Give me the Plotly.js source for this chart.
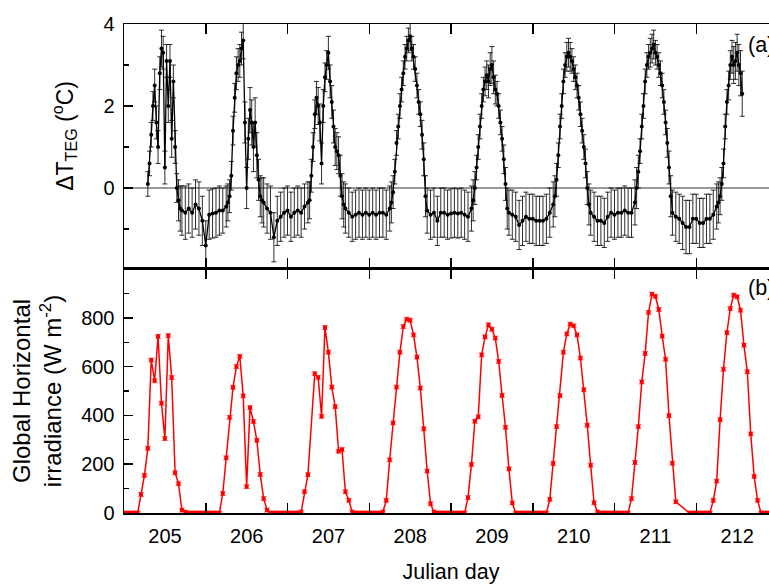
<!DOCTYPE html>
<html><head><meta charset="utf-8">
<script src="https://cdn.plot.ly/plotly-3.0.1.min.js"></script>
<style>html,body{margin:0;padding:0;overflow:hidden;background:#fff}#chart{width:800px;height:588px}</style>
</head><body><div id="chart"></div>
<script>
// ---------- DATA ----------
const days = [205, 206, 207, 208, 209, 210, 211, 212];
const dayLabels = ['205', '206', '207', '208', '209', '210', '211', '212'];

// hour of day for the ΔT_TEG samples (hourly at night, half-hourly during daytime)
const hoursDT = [0,1,2,3,4,5,6,6.5,7,7.5,8,8.5,9,9.5,10,10.5,11,11.5,12,12.5,13,13.5,14,14.5,15,15.5,16,16.5,17,18,19,20,21,22,23];

const dT205 = [null,null,null,null,null,null,null,null, 0.1,0.6,1.3,2.0,2.5,1.6,1.0,2.8,3.4,3.3,0.5,3.1,2.0,3.1,1.2,2.6,1.0,0.0,-0.3,-0.5, -0.55,-0.6,-0.5,-0.6,-0.4,-0.5,-0.8];
const dT206 = [-1.4,-0.65,-0.62,-0.6,-0.55,-0.55,-0.45,-0.35, -0.2,0.3,1.4,2.2,2.8,3.0,3.1,3.4,3.6,1.6,0.0,1.2,1.9,1.6,1.0,1.6,0.8,0.2,-0.2,-0.3, -0.35,-0.5,-0.6,-1.2,-0.8,-0.7,-0.6];
const dT207 = [-0.55,-0.7,-0.6,-0.55,-0.6,-0.45,-0.35,-0.3, 0.3,1.0,1.8,2.2,2.0,1.6,0.6,2.0,2.7,3.0,3.3,2.6,2.1,1.5,1.0,0.9,0.8,0.3,-0.2,-0.4, -0.5,-0.6,-0.7,-0.65,-0.6,-0.65,-0.6];
const dT208 = [-0.65,-0.6,-0.65,-0.6,-0.6,-0.65,-0.5,-0.35, -0.1,0.4,1.1,1.5,2.0,2.4,2.8,3.2,3.4,3.6,3.7,3.4,3.2,2.9,2.5,2.1,1.8,1.3,0.7,-0.2, -0.55,-0.65,-0.6,-0.8,-0.6,-0.6,-0.65];
const dT209 = [-0.62,-0.6,-0.62,-0.6,-0.65,-0.7,-0.5,-0.3, 0.0,0.5,1.0,1.5,2.0,2.4,2.6,2.75,2.6,2.9,3.0,2.7,2.4,2.3,2.0,1.6,1.2,0.7,0.1,-0.5, -0.6,-0.65,-0.7,-0.9,-0.8,-0.7,-0.75];
const dT210 = [-0.75,-0.8,-0.8,-0.8,-0.75,-0.6,-0.4,-0.2, 0.2,0.8,1.5,2.0,2.6,3.0,3.2,3.3,3.2,3.1,2.9,2.7,2.5,2.2,1.8,1.4,1.0,0.6,0.0,-0.4, -0.6,-0.7,-0.8,-0.8,-0.85,-0.7,-0.6];
const dT211 = [-0.65,-0.6,-0.6,-0.55,-0.6,-0.6,-0.35,0.0, 0.4,0.9,1.5,2.0,2.6,3.0,3.2,3.3,3.4,3.5,3.3,3.2,3.0,2.8,2.5,2.1,1.6,1.1,0.5,-0.2, -0.6,-0.7,-0.75,-0.85,-0.95,-0.95,-0.75];
const dT212 = [-0.75,-0.85,-0.85,-0.75,-0.75,-0.65,-0.45,-0.35, -0.2,0.1,0.6,1.5,2.1,2.5,3.0,3.2,3.0,3.1,3.3,3.0,2.8,2.3,null,null,null,null,null,null, null,null,null,null,null,null,null];

const errDT205 = [null,null,null,null,null,null,null,null, 0.3,0.3,0.3,0.35,0.4,0.4,0.4,0.4,0.45,0.4,0.4,0.4,0.4,0.4,0.45,0.4,0.4,0.35,0.5,0.55, 0.6,0.65,0.6,0.6,0.6,0.65,0.6];
const errDT206 = [0.6,0.6,0.6,0.6,0.6,0.55,0.5,0.45, 0.4,0.35,0.35,0.35,0.4,0.4,0.4,0.4,0.45,0.5,0.5,0.5,0.55,0.55,0.6,0.6,0.55,0.5,0.5,0.55, 0.6,0.6,0.65,0.6,0.6,0.6,0.6];
const errDT207 = [0.6,0.6,0.6,0.6,0.6,0.55,0.5,0.45, 0.4,0.35,0.35,0.4,0.45,0.45,0.5,0.4,0.35,0.35,0.4,0.4,0.4,0.4,0.45,0.45,0.45,0.5,0.55,0.55, 0.6,0.6,0.6,0.6,0.6,0.6,0.6];
const errDT208 = [0.6,0.6,0.6,0.6,0.6,0.6,0.55,0.5, 0.4,0.3,0.3,0.3,0.3,0.3,0.3,0.3,0.3,0.3,0.35,0.3,0.3,0.3,0.3,0.3,0.3,0.35,0.4,0.5, 0.55,0.6,0.6,0.6,0.6,0.6,0.6];
const errDT209 = [0.6,0.6,0.6,0.6,0.6,0.6,0.55,0.5, 0.4,0.3,0.3,0.3,0.3,0.3,0.35,0.35,0.4,0.4,0.45,0.4,0.35,0.3,0.3,0.3,0.3,0.35,0.4,0.5, 0.55,0.6,0.6,0.6,0.6,0.6,0.6];
const errDT210 = [0.6,0.6,0.6,0.6,0.6,0.6,0.55,0.5, 0.4,0.3,0.3,0.3,0.3,0.3,0.35,0.35,0.35,0.3,0.3,0.3,0.3,0.3,0.3,0.3,0.3,0.35,0.4,0.5, 0.55,0.6,0.6,0.6,0.6,0.6,0.6];
const errDT211 = [0.6,0.6,0.6,0.6,0.6,0.6,0.55,0.5, 0.4,0.3,0.3,0.3,0.3,0.3,0.3,0.35,0.35,0.35,0.3,0.3,0.3,0.3,0.3,0.3,0.3,0.35,0.4,0.5, 0.55,0.6,0.6,0.65,0.65,0.65,0.6];
const errDT212 = [0.6,0.6,0.6,0.6,0.6,0.6,0.55,0.5, 0.45,0.4,0.35,0.3,0.3,0.35,0.35,0.4,0.45,0.45,0.45,0.5,0.55,0.55,null,null,null,null,null,null, null,null,null,null,null,null,null];

// hourly Global Horizontal irradiance (W m^-2)
const hoursIrr = [0,1,2,3,4,5,6,7,8,9,10,11,12,13,14,15,16,17,18,19,20,21,22,23];
const irr205 = [0,0,0,0,0,76,154,265,627,542,724,450,305,727,555,165,120,12,4,0,0,0,0,0];
const irr206 = [0,0,0,0,0,80,226,392,515,600,642,480,108,432,375,298,158,59,12,0,0,0,0,0];
const irr207 = [0,0,0,0,4,87,157,null,571,556,396,760,659,516,436,253,260,87,52,4,0,0,0,0];
const irr208 = [0,0,0,0,4,52,218,369,516,659,764,794,790,730,639,512,345,172,38,4,0,0,0,0];
const irr209 = [0,0,0,0,0,63,199,376,394,648,722,771,753,717,621,482,351,181,41,0,0,0,0,0];
const irr210 = [0,0,0,0,0,56,203,354,481,659,734,774,767,730,635,505,360,196,42,4,0,0,0,0];
const irr211 = [0,0,0,0,0,59,207,354,537,654,822,897,888,834,725,630,399,204,46,null,null,null,0,0];
const irr212 = [0,0,0,0,0,52,131,382,589,739,838,893,886,831,688,579,324,150,52,0,0,0,0,0];
const irrErr = 8;

const dTByDay = [dT205, dT206, dT207, dT208, dT209, dT210, dT211, dT212];
const errByDay = [errDT205, errDT206, errDT207, errDT208, errDT209, errDT210, errDT211, errDT212];
const irrByDay = [irr205, irr206, irr207, irr208, irr209, irr210, irr211, irr212];

// ---------- BUILD SERIES ----------
const dtX = [], dtY = [], dtE = [];
days.forEach((d, k) => {
  hoursDT.forEach((h, i) => {
    if (dTByDay[k][i] !== null) {
      dtX.push(d + h / 24); dtY.push(dTByDay[k][i]); dtE.push(errByDay[k][i]);
    }
  });
});
const irX = [], irY = [];
days.forEach((d, k) => {
  hoursIrr.forEach((h, i) => {
    if (irrByDay[k][i] !== null) { irX.push(d + h / 24); irY.push(irrByDay[k][i]); }
  });
});

const FONT = 'Arial, "Liberation Sans", sans-serif';
const TICK_SIZE = 20;
const XTITLE_SIZE = 21.5;
const YTITLE_SIZE = 24;

const traces = [
  {
    x: dtX, y: dtY, xaxis: 'x2', yaxis: 'y2', type: 'scatter', mode: 'lines+markers',
    line: {color: '#000', width: 1.3},
    marker: {color: '#000', size: 4, symbol: 'circle'},
    error_y: {type: 'data', array: dtE, visible: true, color: 'rgba(10,10,10,0.85)', thickness: 1, width: 2.5},
    showlegend: false, hoverinfo: 'x+y'
  },
  {
    x: irX, y: irY, xaxis: 'x', yaxis: 'y', type: 'scatter', mode: 'lines+markers',
    line: {color: '#ff0000', width: 1.5},
    marker: {color: '#ff0000', size: 4, symbol: 'square'},
    error_y: {type: 'constant', value: irrErr, visible: true, color: 'rgba(255,60,60,0.7)', thickness: 1, width: 3},
    showlegend: false, hoverinfo: 'x+y'
  }
];

const axisCommon = {
  showline: true, linecolor: '#000', linewidth: 1.5, mirror: 'ticks',
  ticks: 'inside', tickcolor: '#000', tickwidth: 1.5, showgrid: false,
  tickfont: {family: FONT, size: TICK_SIZE, color: '#000'}
};

const layout = {
  width: 800, height: 588,
  margin: {l: 124, r: 22, t: 24, b: 75},
  paper_bgcolor: '#fff', plot_bgcolor: '#fff',
  font: {family: FONT, color: '#000'},
  xaxis: Object.assign({}, axisCommon, {
    anchor: 'y', domain: [0, 1], range: [205, 213],
    tickvals: days, ticktext: dayLabels, ticklen: 10, ticklabelshift: 41, ticklabelstandoff: 4,
    zeroline: false,
    title: {text: 'Julian day', font: {family: FONT, size: XTITLE_SIZE, color: '#000'}, standoff: 18}
  }),
  xaxis2: Object.assign({}, axisCommon, {
    anchor: 'y2', matches: 'x', range: [205, 213],
    tickvals: days, ticklen: 10, showticklabels: false, zeroline: false
  }),
  yaxis: Object.assign({}, axisCommon, {
    anchor: 'x', domain: [0, 0.499], range: [0, 1000],
    tickvals: [0, 200, 400, 600, 800], ticklen: 9, zeroline: false, ticklabelstandoff: 4,
    minor: {tickvals: [100, 300, 500, 700, 900], ticks: 'inside', ticklen: 5, tickcolor: '#000', tickwidth: 1.2},
    title: {text: 'Global Horizontal<br>irradiance (W m<sup>-2</sup>)', font: {family: FONT, size: YTITLE_SIZE, color: '#000'}, standoff: 12}
  }),
  yaxis2: Object.assign({}, axisCommon, {
    anchor: 'x2', domain: [0.501, 1], range: [-1.95, 4],
    tickvals: [0, 2, 4], ticklen: 9, ticklabelstandoff: 4,
    zeroline: true, zerolinecolor: '#999', zerolinewidth: 1.2,
    minor: {tickvals: [-1, 1, 3], ticks: 'inside', ticklen: 5, tickcolor: '#000', tickwidth: 1.2}
  }),
  annotations: [
    {text: 'ΔT<sub>TEG</sub> (<sup>o</sup>C)', xref: 'paper', yref: 'paper', x: -0.092, y: 0.771,
     xanchor: 'center', yanchor: 'middle', textangle: -90, showarrow: false,
     font: {family: FONT, size: 23, color: '#000'}},
    {text: '(a)', xref: 'paper', yref: 'paper', x: 0.951, y: 0.957, xanchor: 'left', yanchor: 'middle', showarrow: false, font: {family: FONT, size: 21.5, color: '#000'}},
    {text: '(b)', xref: 'paper', yref: 'paper', x: 0.951, y: 0.460, xanchor: 'left', yanchor: 'middle', showarrow: false, font: {family: FONT, size: 21.5, color: '#000'}}
  ]
};

Plotly.newPlot('chart', traces, layout, {displayModeBar: false, staticPlot: true});
</script></body></html>
